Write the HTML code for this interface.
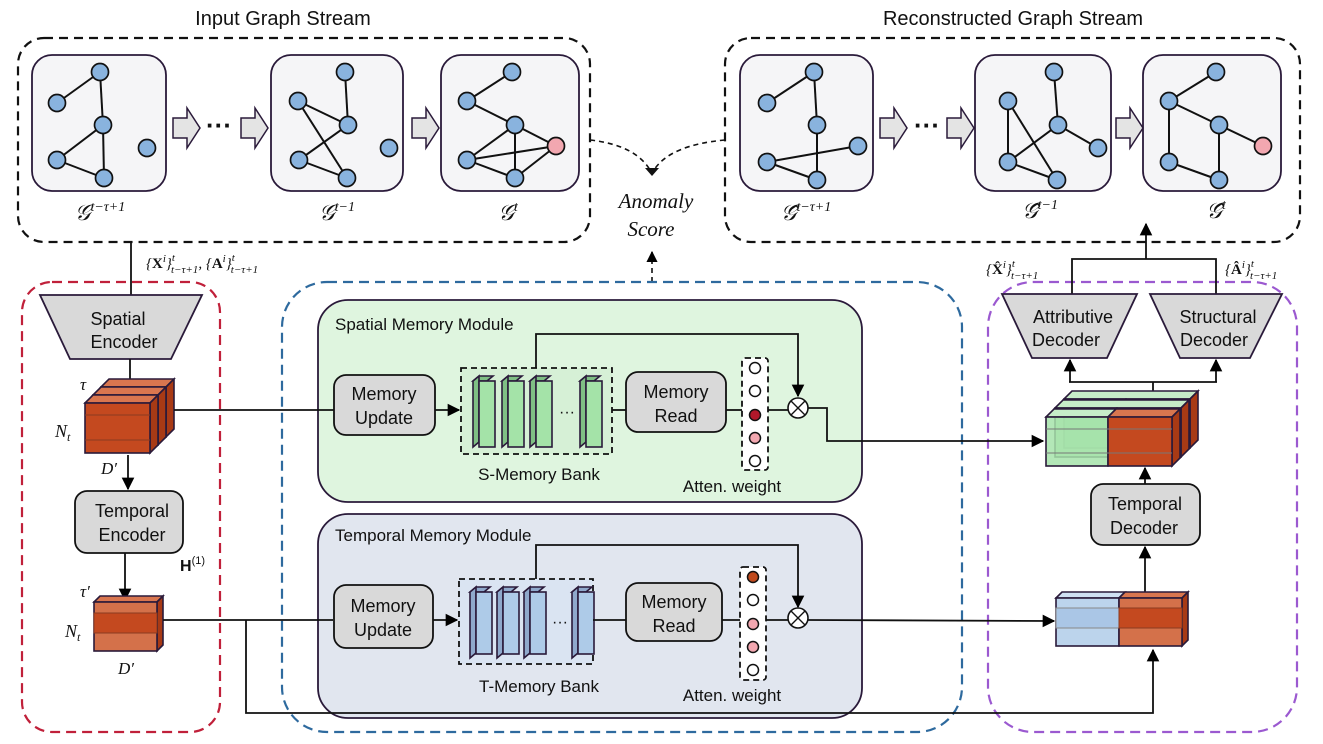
<!DOCTYPE html>
<html><head><meta charset="utf-8"><style>
html,body{margin:0;padding:0;background:#fff}
svg{display:block}
text{font-family:"Liberation Sans",sans-serif;fill:#111}
.m{font-family:"Liberation Serif",serif;font-style:italic}
</style></head><body>
<svg width="1323" height="744" viewBox="0 0 1323 744" xmlns="http://www.w3.org/2000/svg">
<defs>
<marker id="ah" viewBox="0 0 10 10" refX="9" refY="5" markerWidth="7" markerHeight="7" orient="auto-start-reverse"><path d="M0,0L10,5L0,10z" fill="#000"/></marker>
</defs>

<text x="283" y="25" font-size="20" text-anchor="middle">Input Graph Stream</text>
<text x="1013" y="25" font-size="20" text-anchor="middle">Reconstructed Graph Stream</text>

<rect x="18" y="38" width="572" height="204" rx="26" fill="none" stroke="#111" stroke-width="2.2" stroke-dasharray="9,6"/>
<rect x="725" y="38" width="575" height="204" rx="26" fill="none" stroke="#111" stroke-width="2.2" stroke-dasharray="9,6"/>

<g fill="#f5f5f7" stroke="#2a1a3a" stroke-width="1.8">
<rect x="32" y="55" width="134" height="136" rx="20"/>
<rect x="271" y="55" width="132" height="136" rx="20"/>
<rect x="441" y="55" width="138" height="136" rx="20"/>
<rect x="740" y="55" width="133" height="136" rx="20"/>
<rect x="975" y="55" width="136" height="136" rx="20"/>
<rect x="1143" y="55" width="138" height="136" rx="20"/>
</g>
<g fill="#e4e4e4" stroke="#2a1a3a" stroke-width="1.5">
<path d="M173,118h14v-10l13,20l-13,20v-10h-14z"/>
<path d="M241,118h14v-10l13,20l-13,20v-10h-14z"/>
<path d="M412,118h14v-10l13,20l-13,20v-10h-14z"/>
<path d="M880,118h14v-10l13,20l-13,20v-10h-14z"/>
<path d="M947,118h14v-10l13,20l-13,20v-10h-14z"/>
<path d="M1116,118h14v-10l13,20l-13,20v-10h-14z"/>
</g>
<text x="219" y="134" font-size="26" font-weight="bold" text-anchor="middle">···</text>
<text x="927" y="134" font-size="26" font-weight="bold" text-anchor="middle">···</text>

<g stroke="#111" stroke-width="2">
<line x1="57" y1="103" x2="100" y2="72"/><line x1="100" y1="72" x2="103" y2="125"/><line x1="103" y1="125" x2="57" y2="160"/><line x1="103" y1="125" x2="104" y2="178"/><line x1="57" y1="160" x2="104" y2="178"/>
<line x1="345" y1="72" x2="348" y2="125"/><line x1="298" y1="101" x2="348" y2="125"/><line x1="298" y1="101" x2="347" y2="178"/><line x1="348" y1="125" x2="299" y2="160"/><line x1="299" y1="160" x2="347" y2="178"/>
<line x1="467" y1="101" x2="512" y2="72"/><line x1="467" y1="101" x2="515" y2="125"/><line x1="515" y1="125" x2="556" y2="146"/><line x1="515" y1="125" x2="467" y2="160"/><line x1="515" y1="125" x2="515" y2="178"/><line x1="467" y1="160" x2="556" y2="146"/><line x1="467" y1="160" x2="515" y2="178"/><line x1="515" y1="178" x2="556" y2="146"/>
<line x1="767" y1="103" x2="814" y2="72"/><line x1="814" y1="72" x2="817" y2="125"/><line x1="817" y1="125" x2="817" y2="180"/><line x1="767" y1="162" x2="858" y2="146"/><line x1="767" y1="162" x2="817" y2="180"/>
<line x1="1054" y1="72" x2="1058" y2="125"/><line x1="1008" y1="101" x2="1008" y2="162"/><line x1="1008" y1="101" x2="1057" y2="180"/><line x1="1058" y1="125" x2="1008" y2="162"/><line x1="1058" y1="125" x2="1098" y2="148"/><line x1="1008" y1="162" x2="1057" y2="180"/>
<line x1="1169" y1="101" x2="1216" y2="72"/><line x1="1169" y1="101" x2="1169" y2="162"/><line x1="1169" y1="101" x2="1219" y2="125"/><line x1="1219" y1="125" x2="1263" y2="146"/><line x1="1219" y1="125" x2="1219" y2="180"/><line x1="1169" y1="162" x2="1219" y2="180"/>
</g>
<g fill="#89b3de" stroke="#111" stroke-width="1.7">
<circle cx="100" cy="72" r="8.5"/><circle cx="57" cy="103" r="8.5"/><circle cx="103" cy="125" r="8.5"/><circle cx="147" cy="148" r="8.5"/><circle cx="57" cy="160" r="8.5"/><circle cx="104" cy="178" r="8.5"/>
<circle cx="345" cy="72" r="8.5"/><circle cx="298" cy="101" r="8.5"/><circle cx="348" cy="125" r="8.5"/><circle cx="389" cy="148" r="8.5"/><circle cx="299" cy="160" r="8.5"/><circle cx="347" cy="178" r="8.5"/>
<circle cx="512" cy="72" r="8.5"/><circle cx="467" cy="101" r="8.5"/><circle cx="515" cy="125" r="8.5"/><circle cx="467" cy="160" r="8.5"/><circle cx="515" cy="178" r="8.5"/>
<circle cx="814" cy="72" r="8.5"/><circle cx="767" cy="103" r="8.5"/><circle cx="817" cy="125" r="8.5"/><circle cx="858" cy="146" r="8.5"/><circle cx="767" cy="162" r="8.5"/><circle cx="817" cy="180" r="8.5"/>
<circle cx="1054" cy="72" r="8.5"/><circle cx="1008" cy="101" r="8.5"/><circle cx="1058" cy="125" r="8.5"/><circle cx="1098" cy="148" r="8.5"/><circle cx="1008" cy="162" r="8.5"/><circle cx="1057" cy="180" r="8.5"/>
<circle cx="1216" cy="72" r="8.5"/><circle cx="1169" cy="101" r="8.5"/><circle cx="1219" cy="125" r="8.5"/><circle cx="1169" cy="162" r="8.5"/><circle cx="1219" cy="180" r="8.5"/>
<circle cx="556" cy="146" r="8.5" fill="#f2a7b0"/><circle cx="1263" cy="146" r="8.5" fill="#f2a7b0"/>
</g>
<g font-size="22" text-anchor="middle">
<text x="100" y="220" class="m">𝒢<tspan font-size="14" dy="-9">t−τ+1</tspan></text>
<text x="337" y="220" class="m">𝒢<tspan font-size="14" dy="-9">t−1</tspan></text>
<text x="508" y="220" class="m">𝒢<tspan font-size="14" dy="-9">t</tspan></text>
<text x="806" y="220" class="m">𝒢̂<tspan font-size="14" dy="-9">t−τ+1</tspan></text>
<text x="1040" y="218" class="m">𝒢̂<tspan font-size="14" dy="-9">t−1</tspan></text>
<text x="1216" y="218" class="m">𝒢̂<tspan font-size="14" dy="-9">t</tspan></text>
</g>

<path d="M590,140 Q635,145 650,170" fill="none" stroke="#111" stroke-width="1.6" stroke-dasharray="5,4"/>
<path d="M725,140 Q670,145 654,170" fill="none" stroke="#111" stroke-width="1.6" stroke-dasharray="5,4"/>
<path d="M645,168 L652,176 L659,168 Z" fill="#111"/>
<text x="656" y="208" font-size="21" text-anchor="middle" class="m">Anomaly</text>
<text x="651" y="236" font-size="21" text-anchor="middle" class="m">Score</text>
<line x1="652" y1="282" x2="652" y2="252" stroke="#111" stroke-width="1.6" stroke-dasharray="5,4" marker-end="url(#ah)"/>

<rect x="22" y="282" width="198" height="450" rx="30" fill="none" stroke="#c0203a" stroke-width="2.2" stroke-dasharray="10,6"/>
<rect x="282" y="282" width="680" height="450" rx="45" fill="none" stroke="#2e6a9e" stroke-width="2.2" stroke-dasharray="10,6"/>
<rect x="988" y="282" width="309" height="450" rx="45" fill="none" stroke="#9b59d0" stroke-width="2.2" stroke-dasharray="10,6"/>

<rect x="318" y="300" width="544" height="202" rx="30" fill="#dff5df" stroke="#2a1a3a" stroke-width="1.8"/>
<rect x="318" y="514" width="544" height="204" rx="30" fill="#e1e6ef" stroke="#2a1a3a" stroke-width="1.8"/>
<text x="335" y="330" font-size="17">Spatial Memory Module</text>
<text x="335" y="541" font-size="17">Temporal Memory Module</text>

<line x1="131" y1="242" x2="131" y2="295" stroke="#111" stroke-width="1.8"/>
<text x="146" y="268" font-size="15" class="m">{<tspan font-weight="bold" font-style="normal">X</tspan><tspan font-size="11" dy="-6">i</tspan><tspan dy="6">}</tspan><tspan font-size="11" dy="-7">t</tspan><tspan font-size="11" dx="-4" dy="12">t−τ+1</tspan><tspan dy="-5">, {</tspan><tspan font-weight="bold" font-style="normal">A</tspan><tspan font-size="11" dy="-6">i</tspan><tspan dy="6">}</tspan><tspan font-size="11" dy="-7">t</tspan><tspan font-size="11" dx="-4" dy="12">t−τ+1</tspan></text>
<path d="M40,295 L202,295 L171,359 L70,359 Z" fill="#d9d9d9" stroke="#2a1a3a" stroke-width="1.8"/>
<text x="118" y="325" font-size="18" text-anchor="middle">Spatial</text>
<text x="124" y="348" font-size="18" text-anchor="middle">Encoder</text>
<line x1="130" y1="359" x2="130" y2="385" stroke="#111" stroke-width="1.8"/>

<g stroke="#2a1a3a" stroke-width="1.6">
<g transform="translate(16,-16)"><path d="M85,403 l8,-8 h65 l-8,8z" fill="#d9764f"/><path d="M150,403 l8,-8 v50 l-8,8z" fill="#a83a15"/><rect x="85" y="403" width="65" height="50" fill="#c4491f"/></g>
<g transform="translate(8,-8)"><path d="M85,403 l8,-8 h65 l-8,8z" fill="#d9764f"/><path d="M150,403 l8,-8 v50 l-8,8z" fill="#a83a15"/><rect x="85" y="403" width="65" height="50" fill="#c4491f"/></g>
<path d="M85,403 l8,-8 h65 l-8,8z" fill="#d9764f"/><path d="M150,403 l8,-8 v50 l-8,8z" fill="#a83a15"/><rect x="85" y="403" width="65" height="50" fill="#c4491f"/>
<line x1="85" y1="415" x2="150" y2="415" stroke="#8a3a20" stroke-width="1"/><line x1="85" y1="440" x2="150" y2="440" stroke="#8a3a20" stroke-width="1"/>
</g>
<text x="80" y="390" font-size="17" class="m">τ</text>
<text x="55" y="437" font-size="18" class="m">N<tspan font-size="12" dy="4">t</tspan></text>
<text x="101" y="474" font-size="17" class="m">D′</text>
<line x1="174" y1="410" x2="334" y2="410" stroke="#111" stroke-width="1.8"/>
<line x1="128" y1="455" x2="128" y2="489" stroke="#111" stroke-width="1.8" marker-end="url(#ah)"/>
<rect x="75" y="491" width="108" height="62" rx="12" fill="#d9d9d9" stroke="#111" stroke-width="1.8"/>
<text x="132" y="517" font-size="18" text-anchor="middle">Temporal</text>
<text x="132" y="541" font-size="18" text-anchor="middle">Encoder</text>
<text x="180" y="571" font-size="16" font-family="Liberation Serif" font-weight="bold">H<tspan font-size="11" dy="-7" font-weight="normal">(1)</tspan></text>
<line x1="125" y1="553" x2="125" y2="600" stroke="#111" stroke-width="1.8" marker-end="url(#ah)"/>
<g stroke="#2a1a3a" stroke-width="1.6">
<path d="M94,602 l6,-6 h63 l-6,6z" fill="#d9764f"/><path d="M157,602 l6,-6 v49 l-6,6z" fill="#a83a15"/><rect x="94" y="602" width="63" height="49" fill="#d4714a"/>
<rect x="94" y="613" width="63" height="20" fill="#c4491f" stroke="#8a3a20" stroke-width="1"/>
</g>
<text x="80" y="597" font-size="17" class="m">τ′</text>
<text x="65" y="637" font-size="18" class="m">N<tspan font-size="12" dy="4">t</tspan></text>
<text x="118" y="674" font-size="17" class="m">D′</text>
<polyline points="163,620 333,620" fill="none" stroke="#111" stroke-width="1.8"/>
<polyline points="246,620 246,713 1153,713 1153,650" fill="none" stroke="#111" stroke-width="1.8" marker-end="url(#ah)"/>

<rect x="334" y="375" width="101" height="60" rx="12" fill="#d9d9d9" stroke="#111" stroke-width="1.8"/>
<text x="384" y="400" font-size="18" text-anchor="middle">Memory</text>
<text x="384" y="424" font-size="18" text-anchor="middle">Update</text>
<line x1="435" y1="410" x2="459" y2="410" stroke="#111" stroke-width="1.8" marker-end="url(#ah)"/>
<rect x="461" y="368" width="151" height="86" fill="#cdeccd" fill-opacity="0.5" stroke="#111" stroke-width="1.8" stroke-dasharray="6,4"/>
<g stroke="#2a1a3a" stroke-width="1.6" fill="#a4e3a8">
<path d="M473,381 l6,-5 h14 l-6,5z" fill="#7fbf84"/><path d="M473,381 l6,-5 v66 l-6,5z" fill="#7fbf84"/><rect x="479" y="381" width="16" height="66"/>
<path d="M502,381 l6,-5 h14 l-6,5z" fill="#7fbf84"/><path d="M502,381 l6,-5 v66 l-6,5z" fill="#7fbf84"/><rect x="508" y="381" width="16" height="66"/>
<path d="M530,381 l6,-5 h14 l-6,5z" fill="#7fbf84"/><path d="M530,381 l6,-5 v66 l-6,5z" fill="#7fbf84"/><rect x="536" y="381" width="16" height="66"/>
<path d="M580,381 l6,-5 h14 l-6,5z" fill="#7fbf84"/><path d="M580,381 l6,-5 v66 l-6,5z" fill="#7fbf84"/><rect x="586" y="381" width="16" height="66"/>
</g>
<text x="567" y="417" font-size="16" text-anchor="middle">···</text>
<text x="539" y="480" font-size="17" text-anchor="middle">S-Memory Bank</text>
<polyline points="536,368 536,334 798,334 798,396" fill="none" stroke="#111" stroke-width="1.8" marker-end="url(#ah)"/>
<line x1="612" y1="410" x2="626" y2="410" stroke="#111" stroke-width="1.8"/>
<rect x="626" y="372" width="100" height="60" rx="12" fill="#d9d9d9" stroke="#111" stroke-width="1.8"/>
<text x="676" y="398" font-size="18" text-anchor="middle">Memory</text>
<text x="676" y="422" font-size="18" text-anchor="middle">Read</text>
<line x1="726" y1="410" x2="742" y2="410" stroke="#111" stroke-width="1.8"/>
<rect x="742" y="358" width="26" height="112" rx="3" fill="#fff" stroke="#111" stroke-width="1.8" stroke-dasharray="6,4"/>
<g stroke="#111" stroke-width="1.5">
<circle cx="755" cy="368" r="5.5" fill="#fff"/><circle cx="755" cy="391" r="5.5" fill="#fff"/><circle cx="755" cy="415" r="5.5" fill="#b0182a"/><circle cx="755" cy="438" r="5.5" fill="#f2a7b0"/><circle cx="755" cy="461" r="5.5" fill="#fff"/>
</g>
<line x1="768" y1="410" x2="788" y2="410" stroke="#111" stroke-width="1.8"/>
<circle cx="798" cy="408" r="10" fill="#fff" stroke="#111" stroke-width="1.6"/>
<path d="M791,401 L805,415 M805,401 L791,415" stroke="#111" stroke-width="1.4"/>
<polyline points="808,408 827,408 827,441 1043,441" fill="none" stroke="#111" stroke-width="1.8" marker-end="url(#ah)"/>
<text x="732" y="492" font-size="17" text-anchor="middle">Atten. weight</text>

<rect x="334" y="585" width="99" height="63" rx="12" fill="#d9d9d9" stroke="#111" stroke-width="1.8"/>
<text x="383" y="612" font-size="18" text-anchor="middle">Memory</text>
<text x="383" y="636" font-size="18" text-anchor="middle">Update</text>
<line x1="433" y1="620" x2="457" y2="620" stroke="#111" stroke-width="1.8" marker-end="url(#ah)"/>
<rect x="459" y="579" width="134" height="85" fill="#d5e3f3" fill-opacity="0.6" stroke="#111" stroke-width="1.8" stroke-dasharray="6,4"/>
<g stroke="#2a1a3a" stroke-width="1.6" fill="#aecbe8">
<path d="M470,592 l6,-5 h14 l-6,5z" fill="#8fa9cc"/><path d="M470,592 l6,-5 v66 l-6,5z" fill="#8fa9cc"/><rect x="476" y="592" width="16" height="62"/>
<path d="M497,592 l6,-5 h14 l-6,5z" fill="#8fa9cc"/><path d="M497,592 l6,-5 v66 l-6,5z" fill="#8fa9cc"/><rect x="503" y="592" width="16" height="62"/>
<path d="M524,592 l6,-5 h14 l-6,5z" fill="#8fa9cc"/><path d="M524,592 l6,-5 v66 l-6,5z" fill="#8fa9cc"/><rect x="530" y="592" width="16" height="62"/>
<path d="M572,592 l6,-5 h14 l-6,5z" fill="#8fa9cc"/><path d="M572,592 l6,-5 v66 l-6,5z" fill="#8fa9cc"/><rect x="578" y="592" width="16" height="62"/>
</g>
<text x="560" y="627" font-size="16" text-anchor="middle">···</text>
<text x="539" y="692" font-size="17" text-anchor="middle">T-Memory Bank</text>
<polyline points="536,579 536,545 798,545 798,607" fill="none" stroke="#111" stroke-width="1.8" marker-end="url(#ah)"/>
<line x1="593" y1="620" x2="626" y2="620" stroke="#111" stroke-width="1.8"/>
<rect x="626" y="583" width="96" height="58" rx="12" fill="#d9d9d9" stroke="#111" stroke-width="1.8"/>
<text x="674" y="608" font-size="18" text-anchor="middle">Memory</text>
<text x="674" y="632" font-size="18" text-anchor="middle">Read</text>
<line x1="722" y1="620" x2="740" y2="620" stroke="#111" stroke-width="1.8"/>
<rect x="740" y="567" width="26" height="113" rx="3" fill="#fff" stroke="#111" stroke-width="1.8" stroke-dasharray="6,4"/>
<g stroke="#111" stroke-width="1.5">
<circle cx="753" cy="577" r="5.5" fill="#c04a1d"/><circle cx="753" cy="600" r="5.5" fill="#fff"/><circle cx="753" cy="624" r="5.5" fill="#f2a7b0"/><circle cx="753" cy="647" r="5.5" fill="#f2a7b0"/><circle cx="753" cy="670" r="5.5" fill="#fff"/>
</g>
<line x1="766" y1="620" x2="788" y2="620" stroke="#111" stroke-width="1.8"/>
<circle cx="798" cy="618" r="10" fill="#fff" stroke="#111" stroke-width="1.6"/>
<path d="M791,611 L805,625 M805,611 L791,625" stroke="#111" stroke-width="1.4"/>
<line x1="808" y1="620" x2="1054" y2="621" stroke="#111" stroke-width="1.8" marker-end="url(#ah)"/>
<text x="732" y="701" font-size="17" text-anchor="middle">Atten. weight</text>

<polyline points="1072,294 1072,259 1216,259 1216,294" fill="none" stroke="#111" stroke-width="1.8"/>
<line x1="1146" y1="259" x2="1146" y2="224" stroke="#111" stroke-width="1.8" marker-end="url(#ah)"/>
<text x="986" y="274" font-size="15" class="m">{<tspan font-weight="bold" font-style="normal">X̂</tspan><tspan font-size="11" dy="-6">i</tspan><tspan dy="6">}</tspan><tspan font-size="11" dy="-7">t</tspan><tspan font-size="11" dx="-4" dy="12">t−τ+1</tspan></text>
<text x="1225" y="274" font-size="15" class="m">{<tspan font-weight="bold" font-style="normal">Â</tspan><tspan font-size="11" dy="-6">i</tspan><tspan dy="6">}</tspan><tspan font-size="11" dy="-7">t</tspan><tspan font-size="11" dx="-4" dy="12">t−τ+1</tspan></text>
<path d="M1002,294 L1137,294 L1107,358 L1032,358 Z" fill="#d9d9d9" stroke="#2a1a3a" stroke-width="1.8"/>
<path d="M1150,294 L1282,294 L1250,358 L1180,358 Z" fill="#d9d9d9" stroke="#2a1a3a" stroke-width="1.8"/>
<text x="1073" y="323" font-size="18" text-anchor="middle">Attributive</text>
<text x="1066" y="346" font-size="18" text-anchor="middle">Decoder</text>
<text x="1218" y="323" font-size="18" text-anchor="middle">Structural</text>
<text x="1214" y="346" font-size="18" text-anchor="middle">Decoder</text>
<line x1="1070" y1="382" x2="1070" y2="360" stroke="#111" stroke-width="1.8" marker-end="url(#ah)"/>
<line x1="1216" y1="382" x2="1216" y2="360" stroke="#111" stroke-width="1.8" marker-end="url(#ah)"/>
<line x1="1069" y1="382" x2="1217" y2="382" stroke="#111" stroke-width="1.8"/>
<line x1="1153" y1="382" x2="1153" y2="400" stroke="#111" stroke-width="1.8"/>

<g stroke="#2a1a3a" stroke-width="1.6">
<g transform="translate(18,-18)">
<path d="M1046,417 l8,-8 h126 l-8,8z" fill="#c6ecc8"/><path d="M1172,417 l8,-8 v49 l-8,8z" fill="#a83a15"/>
<rect x="1046" y="417" width="62" height="49" fill="#a6e3aa" fill-opacity="0.8"/><rect x="1108" y="417" width="64" height="49" fill="#c4491f"/></g>
<g transform="translate(9,-9)">
<path d="M1046,417 l8,-8 h126 l-8,8z" fill="#c6ecc8"/><path d="M1172,417 l8,-8 v49 l-8,8z" fill="#a83a15"/>
<rect x="1046" y="417" width="62" height="49" fill="#a6e3aa" fill-opacity="0.8"/><rect x="1108" y="417" width="64" height="49" fill="#c4491f"/></g>
<path d="M1046,417 l8,-8 h62 l-8,8z" fill="#c6ecc8"/><path d="M1108,417 l8,-8 h64 l-8,8z" fill="#d9764f"/><path d="M1172,417 l8,-8 v49 l-8,8z" fill="#a83a15"/>
<rect x="1046" y="417" width="62" height="49" fill="#a6e3aa" fill-opacity="0.85"/><rect x="1108" y="417" width="64" height="49" fill="#c4491f"/>
<line x1="1046" y1="429" x2="1172" y2="429" stroke="#777" stroke-width="1"/><line x1="1046" y1="453" x2="1172" y2="453" stroke="#777" stroke-width="1"/>
</g>
<line x1="1145" y1="484" x2="1145" y2="468" stroke="#111" stroke-width="1.8" marker-end="url(#ah)"/>
<rect x="1091" y="484" width="109" height="61" rx="12" fill="#d9d9d9" stroke="#111" stroke-width="1.8"/>
<text x="1145" y="510" font-size="18" text-anchor="middle">Temporal</text>
<text x="1144" y="534" font-size="18" text-anchor="middle">Decoder</text>
<line x1="1145" y1="598" x2="1145" y2="547" stroke="#111" stroke-width="1.8" marker-end="url(#ah)"/>
<g stroke="#2a1a3a" stroke-width="1.6">
<path d="M1056,598 l6,-6 h63 l-6,6z" fill="#cfe0f2"/><path d="M1119,598 l6,-6 h63 l-6,6z" fill="#d9764f"/><path d="M1182,598 l6,-6 v48 l-6,6z" fill="#a83a15"/>
<rect x="1056" y="598" width="63" height="48" fill="#bcd4ec"/><rect x="1119" y="598" width="63" height="48" fill="#d4714a"/>
<rect x="1056" y="608" width="63" height="20" fill="#aac6e6" stroke="#888" stroke-width="1"/><rect x="1119" y="608" width="63" height="20" fill="#c4491f" stroke="#8a3a20" stroke-width="1"/>
</g>
</svg>
</body></html>
